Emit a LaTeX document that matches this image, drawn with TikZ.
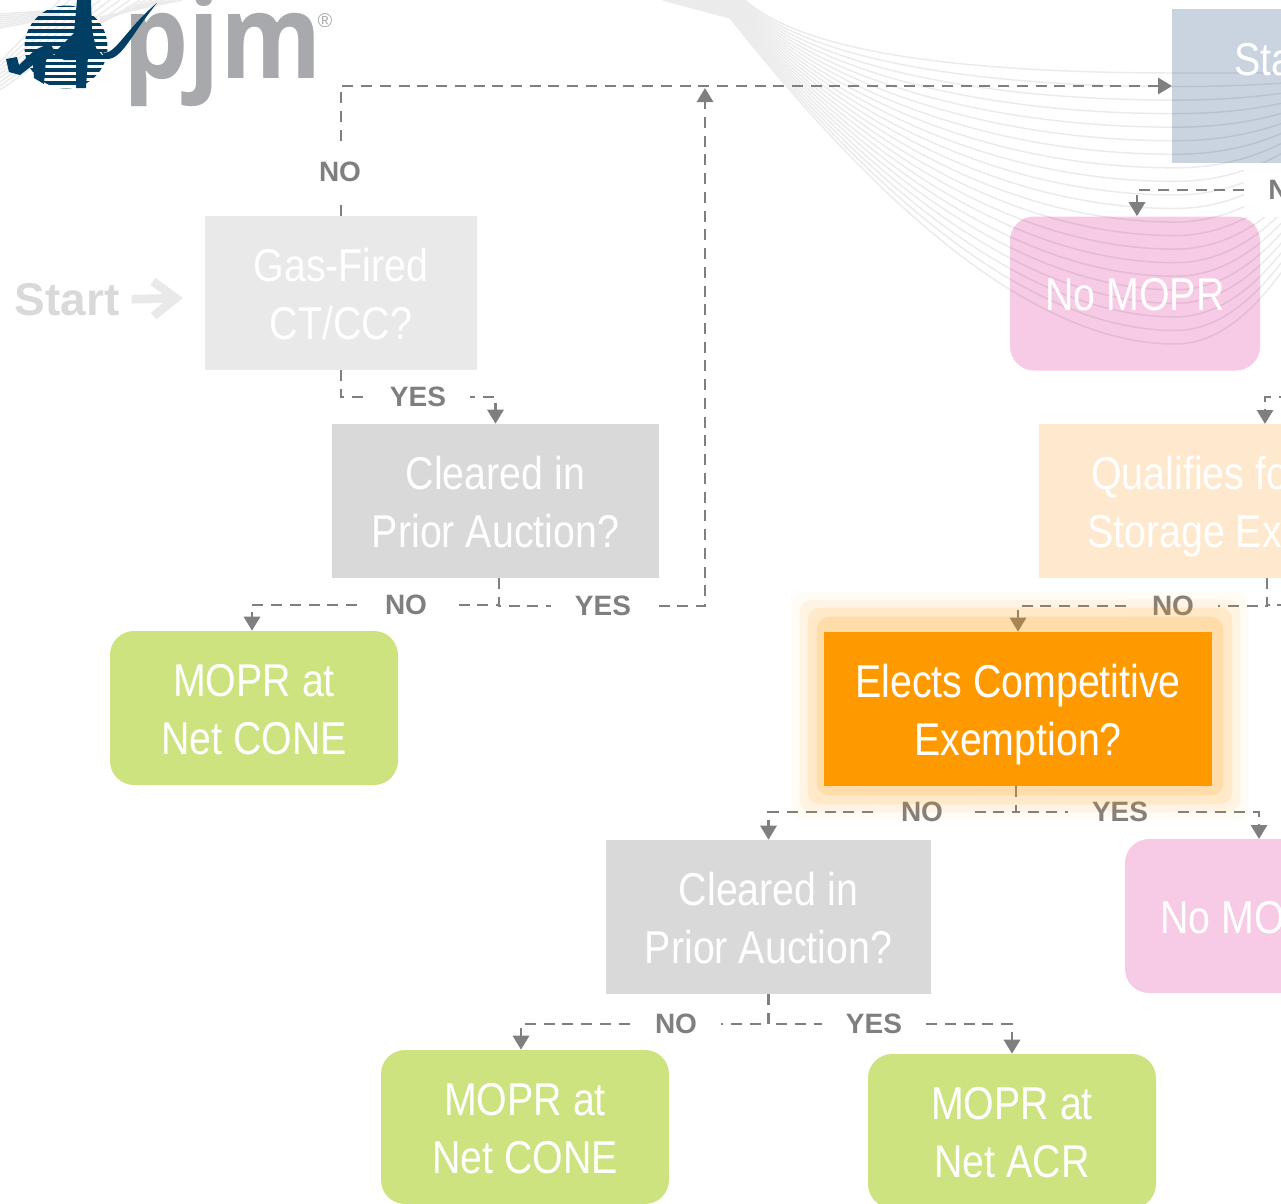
\documentclass[tikz,border=0pt]{standalone}
\usepackage{fontspec}
\setmainfont{Liberation Sans}
\newfontfamily\narrowfont[FakeStretch=0.855]{Liberation Sans}
\newfontfamily\pjmfont[FakeStretch=0.88]{Open Sans}
\usepackage{xcolor}
\usepackage{tikz}
\usetikzlibrary{arrows.meta, calc, positioning}

\definecolor{pjmblue}{HTML}{003F63}
\definecolor{pjmgray}{HTML}{A7A9AC}
\definecolor{linkgray}{HTML}{7F7F7F}
\definecolor{swoosh}{HTML}{EBEBEB}
\definecolor{gasfill}{HTML}{E9E9E9}
\definecolor{clearfill}{HTML}{D9D9D9}
\definecolor{moprfill}{HTML}{CCE37F}
\definecolor{pinkfill}{HTML}{F7CBE5}
\definecolor{bluefill}{HTML}{C9D4E0}
\definecolor{peachfill}{HTML}{FEE9CF}
\definecolor{electfill}{HTML}{FF9900}

\pgfdeclarelayer{swooshlayer}
\pgfdeclarelayer{linklayer}
\pgfdeclarelayer{glowlayer}
\pgfsetlayers{swooshlayer,linklayer,glowlayer,main}

\tikzset{
	flowbox/.style={rectangle, inner sep=0, minimum height=115.5pt, text=white, align=center,
		font=\narrowfont\fontsize{34.5}{43.5}\selectfont, text height=35.5pt, text depth=10pt},
	twoline/.style={text height=79.8pt, text depth=10pt},
	result/.style={flowbox, twoline, rounded corners=18pt, minimum width=216pt, fill=moprfill},
	question/.style={flowbox, twoline, minimum width=245.25pt, fill=clearfill},
	link/.style={draw=linkgray, line width=2.2pt, dash pattern=on 8.25pt off 5.8pt, -{Triangle[length=10.5pt,width=12pt]}},
	plainlink/.style={draw=linkgray, line width=2.2pt, dash pattern=on 8.25pt off 5.8pt},
	answer/.style={fill=white, text=linkgray, inner xsep=18pt, inner ysep=12pt, font=\bfseries\fontsize{21}{21}\selectfont},
	swooshline/.style={draw=swoosh, line width=1.1pt}
}

\begin{document}
\begin{tikzpicture}[x=0.75pt, y=-0.75pt]
	\useasboundingbox (0,0) rectangle (1281,1203);

	% boxes on the left
	\node [flowbox, twoline, minimum width=204pt, fill=gasfill] (gas) at (341,293) {Gas-Fired\\CT/CC?};
	\node [question] (clearedone) at (495.5,501) {Cleared in\\Prior Auction?};
	\node [result] (moprone) at (254,708) {MOPR at\\Net CONE};
	\node [inner sep=0, text=clearfill, font=\bfseries\fontsize{34.5}{34.5}\selectfont] (start) at (67,299.5) {Start};
	\coordinate (startend) at (183,298);

	% boxes in the middle
	\node [flowbox, twoline, minimum width=291pt, fill=electfill] (elects) at (1018,709) {Elects Competitive\\Exemption?};
	\node [question, minimum width=243.75pt] (clearedtwo) at (768.5,917) {Cleared in\\Prior Auction?};
	\node [result] (moprtwo) at (525,1127) {MOPR at\\Net CONE};
	\node [result] (moprthree) at (1012,1131) {MOPR at\\Net ACR};

	% boxes cut by the right edge
	\begin{scope}[blend mode=multiply]
		\node [flowbox, minimum width=160pt, fill=bluefill] (status) at (1279,86) {};
		\node [flowbox, rounded corners=18pt, minimum width=187.5pt, fill=pinkfill] (nomopr) at (1135,293.5) {};
	\end{scope}
	\node [flowbox, anchor=west] (statustext) at (1234,58) {Sta};
	\node [flowbox] (nomoprtext) at (1135,293.5) {No MOPR};
	\node [flowbox, minimum width=245pt, fill=peachfill] (qualifies) at (1202,501) {};
	\node [flowbox, twoline, anchor=west, align=left] (qualtext) at (1087,501) {\hspace*{3pt}Qualifies fo\\Storage Ex};
	\node [flowbox, rounded corners=18pt, minimum width=187.5pt, fill=pinkfill] (nomoprtwo) at (1250,916) {};
	\node [flowbox, anchor=west] (nomotext) at (1160,916) {No MO};

	% logo
	\node [anchor=base west, inner sep=0, text=pjmgray, font=\pjmfont\bfseries\fontsize{88}{88}\selectfont] (pjm) at (123,78) {pjm};
	\node [inner sep=0, text=pjmgray, font=\fontsize{15}{15}\selectfont] (regmark) at (325,21) {\textregistered};
	\begin{scope}
		\clip (66,47) circle (41.5);
		\foreach \k in {0,...,13}
			\fill [pjmblue] (20,{3+6.5*\k}) rectangle (112,{6.6+6.5*\k});
	\end{scope}
	\fill [pjmblue] (77,0) -- (91,0) -- (92,30) -- (96,48) -- (103,56) -- (88,56) -- (86,88) -- (76,88) -- (76,60) -- (64,60) -- (54,54) -- (46,60) -- (44,84) -- (34,78) -- (33,65) -- (20,75) -- (9,72) -- (6,59) -- (17,57) -- (19,65) -- (35,50) -- (50,43) -- (55,52) -- (74,33) -- cycle;
	\fill [pjmblue] (100,50) .. controls (112,62) and (124,30) .. (157,3) .. controls (130,36) and (122,60) .. (106,59) -- cycle;

	\begin{pgfonlayer}{swooshlayer}
		\coordinate (topa) at (730,-8);   \coordinate (bota) at (663,0);
		\coordinate (topb) at (745,0);    \coordinate (botb) at (730,18);
		\coordinate (topc) at (800,50);   \coordinate (botc) at (820,130);
		\coordinate (topd) at (950,73);   \coordinate (botd) at (1000,344);
		\coordinate (tope) at (1175,73);  \coordinate (bote) at (1175,344);
		\coordinate (topf) at (1230,73);  \coordinate (botf) at (1225,344);
		\coordinate (topg) at (1270,73);  \coordinate (botg) at (1265,300);
		\coordinate (toph) at (1300,73);  \coordinate (both) at (1300,245);
		\foreach \i in {0,...,20} {
			\pgfmathsetmacro\t{\i/20}
			\draw [swooshline] ($(topa)!\t!(bota)$) -- ($(topb)!\t!(botb)$)
				.. controls ($(topc)!\t!(botc)$) and ($(topd)!\t!(botd)$) .. ($(tope)!\t!(bote)$)
				.. controls ($(topf)!\t!(botf)$) and ($(topg)!\t!(botg)$) .. ($(toph)!\t!(both)$);
		}
		\foreach \i in {0,...,7} {
			\draw [swooshline] (0,{14+\i*2}) -- (60,{10+\i});
			\draw [swooshline] (0,{62+\i*4}) -- ({60+\i*10},0);
			\draw [swooshline] (100,{24-\i}) -- ({140+\i*6},0);
		}
	\end{pgfonlayer}

	\begin{pgfonlayer}{linklayer}
		\node [answer] (gasno) at (340,172) {NO};
		\node [answer] (gasyes) at (418,397) {YES};
		\node [answer] (clearoneno) at (406,605) {NO};
		\node [answer] (clearoneyes) at (603,606) {YES};
		\node [answer] (qualno) at (1173,606) {NO};
		\node [answer] (electno) at (922,812) {NO};
		\node [answer] (electyes) at (1120,812) {YES};
		\node [answer] (cleartwono) at (676,1024) {NO};
		\node [answer] (cleartwoyes) at (874,1024) {YES};
		\node [fill=white, text=linkgray, anchor=west, inner xsep=18pt, inner ysep=0, minimum height=40.5pt, text width=30pt, align=left, font=\bfseries\fontsize{21}{21}\selectfont] (statusno) at (1244,190) {N};
		\coordinate (qualout) at (1267,578);
		\coordinate (qualright) at (1290,605);
		\coordinate (qualleft) at (1290,397);
		\coordinate (qualin) at (1265,424);
		\coordinate (yesin) at (1259,839);
		\coordinate (uparrow) at (705,88);
	\end{pgfonlayer}

	\begin{pgfonlayer}{swooshlayer}
		\draw [link] (gas.north) |- (status.west);
		\draw [link] (gas.south) |- (gasyes.center) -| (clearedone.north);
		\draw [link] ([xshift=2.6pt]clearedone.south) |- (clearoneno.center) -| ([xshift=-1.5pt]moprone.north);
		\draw [link] ([xshift=2.6pt]clearedone.south) |- (clearoneyes.center) -| (uparrow);
		\draw [link] (statusno.west) -| ([xshift=1.5pt]nomopr.north);
		\draw [link] (qualleft) -| (qualin);
		\draw [link] (qualout) |- (qualno.center) -| (elects.north);
		\draw [plainlink] (qualout) |- (qualright);
		\draw [link] ([xshift=-1.5pt]elects.south) |- (electno.center) -| (clearedtwo.north);
		\draw [link] ([xshift=-1.5pt]elects.south) |- (electyes.center) -| (yesin);
		\draw [link] (clearedtwo.south) |- (cleartwono.center) -| ([xshift=-3pt]moprtwo.north);
		\draw [link] (clearedtwo.south) |- (cleartwoyes.center) -| (moprthree.north);
	\end{pgfonlayer}

	\begin{pgfonlayer}{glowlayer}
		\foreach \g/\o in {34/.04,26/.07,18/.12,9/.15}
			\fill [electfill, opacity=\o, rounded corners=9pt] ([shift={({2-\g},{-6-\g})}]elects.north west) rectangle ([shift={({2+\g},\g)}]elects.south east);
	\end{pgfonlayer}

	\draw [draw=gasfill, line width=6.5pt, shorten <=9pt, -{Straight Barb[length=17pt,width=26pt]}] (start.east) -- (startend);
\end{tikzpicture}
\end{document}
